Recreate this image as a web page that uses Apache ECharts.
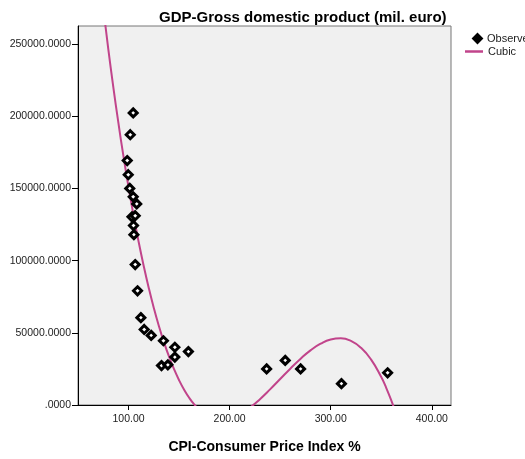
<!DOCTYPE html>
<html>
<head>
<meta charset="utf-8">
<script src="https://cdn.jsdelivr.net/npm/echarts@6/dist/echarts.min.js"></script>
<style>html,body{margin:0;padding:0;background:#fff}#c{width:525px;height:459px}</style>
</head>
<body>
<div id="c"></div>
<script>
// Observed points (CPI %, GDP mil. euro)
const cpiObserved = [104.6,101.7,98.7,99.7,101.2,104.6,108.1,103.4,106.6,104.9,105.3,106.6,108.9,112.2,115.5,122.4,134.5,145.8,159.2,145.8,132.6,138.9,236.6,255.0,270.2,310.6,356.3];
const gdpObserved = [202300,187200,169300,159500,150000,144200,139300,130300,131100,124300,118000,97300,79100,60500,52300,48200,44500,40000,37000,33200,27300,27800,25000,30900,25000,14800,22300];
// Cubic fit curve
const cubicX = [74,80,85,90,95,100,105,110,115,120,125,130,135,140,145,150,155,160,165,170,180,190,200,210,220,230,240,250,260,270,280,290,300,310,320,330,340,350,355,360,365];
const cubicY = [280520,246340,219870,195160,172170,150850,131130,112960,96300,81080,67250,54770,43570,33610,24820,17160,10580,5010,410,-3280,-8140,-10000,-9270,-6410,-1820,4060,10800,17980,25160,31920,37830,42450,45370,46160,44380,39600,31410,19360,11760,3040,-6870];
// Tick labels
const xTicks = [100,200,300,400];
const yTicks = [0,50000,100000,150000,200000,250000];

const FONT = "'Liberation Sans', Arial, sans-serif";
const chart = echarts.init(document.getElementById('c'), null, {renderer:'canvas'});
chart.setOption({
  animation:false,
  backgroundColor:'#ffffff',
  title:{
    text:'GDP-Gross domestic product (mil. euro)',
    left:154, top:5,
    textStyle:{fontFamily:FONT, fontSize:15, fontWeight:'bold', color:'#000'}
  },
  legend:[{
    data:[{name:'Observed', icon:'diamond', itemStyle:{color:'#000', borderColor:'#000'}}],
    left:467, top:28, itemWidth:9, itemHeight:9,
    textStyle:{fontFamily:FONT, fontSize:11, color:'#222'}
  },{
    data:[{name:'Cubic', icon:'rect'}],
    left:460, top:41, itemWidth:18, itemHeight:2.5,
    textStyle:{fontFamily:FONT, fontSize:11, color:'#222'}
  }],
  grid:{
    left:78, top:26, right:74, bottom:48,
    show:true, backgroundColor:'#f0f0f0', borderColor:'#777', borderWidth:1
  },
  xAxis:{
    type:'value', min:50, max:419,
    name:'CPI-Consumer Price Index %', nameLocation:'middle', nameGap:35,
    nameTextStyle:{fontFamily:FONT, fontSize:14, fontWeight:'bold', color:'#000'},
    axisLine:{show:true, onZero:false, lineStyle:{color:'#000', width:1}},
    axisTick:{show:true, length:5, customValues:xTicks, lineStyle:{color:'#000'}},
    axisLabel:{customValues:xTicks, margin:9, fontFamily:FONT, fontSize:10.5, color:'#222',
      formatter:v=>v.toFixed(2)},
    splitLine:{show:false}
  },
  yAxis:{
    type:'value', min:0, max:262500,
    axisLine:{show:true, onZero:false, lineStyle:{color:'#000', width:1}},
    axisTick:{show:true, length:6, customValues:yTicks, lineStyle:{color:'#000'}},
    axisLabel:{customValues:yTicks, margin:7, fontFamily:FONT, fontSize:10.5, color:'#222',
      formatter:v=> v===0 ? '.0000' : v.toFixed(4)},
    splitLine:{show:false}
  },
  series:[{
    name:'Observed', type:'scatter',
    data:cpiObserved.map((x,i)=>[x,gdpObserved[i]]),
    symbol:'diamond', symbolSize:8,
    itemStyle:{color:'#ffffff', borderColor:'#000', borderWidth:3, opacity:1},
    z:3
  },{
    name:'Cubic', type:'line',
    data:cubicX.map((x,i)=>[x,cubicY[i]]),
    smooth:true, symbol:'none', clip:true,
    lineStyle:{color:'#c1448b', width:2},
    itemStyle:{color:'#c1448b'},
    z:2
  }]
});
</script>
</body>
</html>
